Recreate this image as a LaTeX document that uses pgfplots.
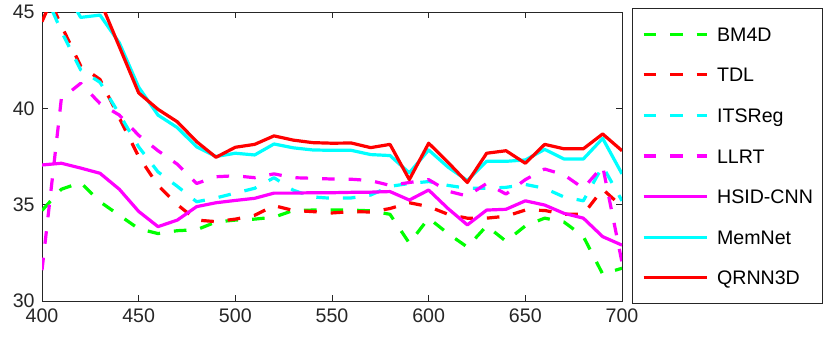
\documentclass[border=0pt]{standalone}
\usepackage{fontspec}
\setmainfont{Liberation Sans}
\usepackage{pgfplots}
\usepackage{pgfplotstable}
\pgfplotsset{compat=1.18}

\definecolor{axgray}{gray}{0.15}
\definecolor{mgreen}{rgb}{0,1,0}
\definecolor{mred}{rgb}{1,0,0}
\definecolor{mcyan}{rgb}{0,1,1}
\definecolor{mmag}{rgb}{1,0,1}

% PSNR per band
\pgfplotstableread{
x    BM4D  TDL   ITSReg LLRT  HSID  MemNet QRNN
400  34.70 46.50 46.30  31.60 37.06 45.80  44.50
410  35.80 44.30 44.00  40.50 37.15 46.50  46.80
420  36.15 42.20 42.00  41.30 36.90 44.72  46.50
430  35.15 41.50 41.35  40.25 36.63 44.84  45.60
440  34.45 39.50 39.70  39.65 35.80 43.40  43.20
450  33.75 37.50 38.00  38.60 34.65 41.10  40.80
460  33.50 36.00 36.70  37.80 33.86 39.65  39.95
470  33.65 35.00 35.95  37.10 34.20 39.00  39.30
480  33.70 34.20 35.15  36.10 34.90 38.00  38.27
490  34.10 34.12 35.35  36.45 35.10 37.50  37.46
500  34.20 34.25 35.60  36.50 35.22 37.67  37.98
510  34.25 34.45 35.85  36.40 35.33 37.58  38.13
520  34.35 34.95 36.40  36.60 35.60 38.15  38.57
530  34.70 34.70 35.75  36.40 35.60 37.95  38.35
540  34.72 34.64 35.40  36.37 35.62 37.84  38.22
550  34.72 34.57 35.33  36.33 35.62 37.82  38.19
560  34.72 34.64 35.35  36.32 35.64 37.82  38.20
570  34.68 34.62 35.50  36.25 35.65 37.60  37.96
580  34.50 34.80 35.95  36.00 35.68 37.55  38.13
590  33.00 35.10 36.10  36.15 35.24 36.65  36.30
600  34.30 34.90 36.20  36.30 35.76 37.84  38.19
610  33.50 34.50 36.00  35.70 34.80 36.95  37.20
620  32.80 34.30 35.85  35.45 33.95 36.25  36.15
630  33.90 34.30 35.85  36.10 34.72 37.25  37.67
640  33.10 34.40 35.90  35.55 34.76 37.25  37.80
650  33.90 34.72 36.05  36.30 35.20 37.32  37.15
660  34.30 34.70 35.85  36.85 34.98 37.87  38.13
670  34.10 34.50 35.40  36.55 34.55 37.37  37.90
680  33.35 34.50 35.20  35.85 34.30 37.37  37.90
690  31.40 35.80 37.00  37.00 33.34 38.44  38.67
700  31.70 34.90 35.20  32.00 32.90 36.60  37.80
}\psnr

\begin{document}
\begin{tikzpicture}
\begin{axis}[
    scale only axis,
    width=290pt, height=144.5pt,
    xmin=400, xmax=700, ymin=30, ymax=45,
    xtick={400,450,...,700},
    ytick={30,35,...,45},
    tick align=inside,
    major tick length=2.8pt,
    axis line style={axgray, line width=0.5pt},
    tick style={axgray, line width=0.5pt},
    ticklabel style={font=\fontsize{9.8}{11.8}\selectfont, text=axgray, inner sep=0pt},
    xticklabel style={yshift=-3.8pt},
    yticklabel style={xshift=-3.5pt},
    /pgf/number format/assume math mode=true,
    /pgf/number format/1000 sep={},
    every axis plot/.append style={line width=1.6pt, line join=round},
    legend cell align=left,
    legend image code/.code={\draw[#1] (0pt,0pt) -- (31.5pt,0pt);},
    legend style={
        at={(1,1)}, anchor=north west, xshift=5pt, yshift=2pt,
        draw=axgray, line width=0.5pt,
        inner xsep=4.7pt, inner ysep=2.7pt,
        row sep=0pt, column sep=4.5pt,
        font=\fontsize{9.8}{11.8}\selectfont,
        nodes={inner sep=0pt, text height=13.65pt, text depth=6.65pt},
    },
]
\addplot[mgreen, dash pattern=on 6.3pt off 7pt] table[x=x, y=BM4D] {\psnr};
\addlegendentry{BM4D}
\addplot[mred, dash pattern=on 6.3pt off 7pt] table[x=x, y=TDL] {\psnr};
\addlegendentry{TDL}
\addplot[mcyan, dash pattern=on 6.3pt off 7pt] table[x=x, y=ITSReg] {\psnr};
\addlegendentry{ITSReg}
\addplot[mmag, dash pattern=on 6.3pt off 7pt] table[x=x, y=LLRT] {\psnr};
\addlegendentry{LLRT}
\addplot[mmag] table[x=x, y=HSID] {\psnr};
\addlegendentry{HSID-CNN}
\addplot[mcyan] table[x=x, y=MemNet] {\psnr};
\addlegendentry{MemNet}
\addplot[mred] table[x=x, y=QRNN] {\psnr};
\addlegendentry{QRNN3D}
\end{axis}
\path ([xshift=-21pt,yshift=-19pt]current axis.south west) rectangle ([xshift=104pt,yshift=6pt]current axis.north east);
\end{tikzpicture}
\end{document}
